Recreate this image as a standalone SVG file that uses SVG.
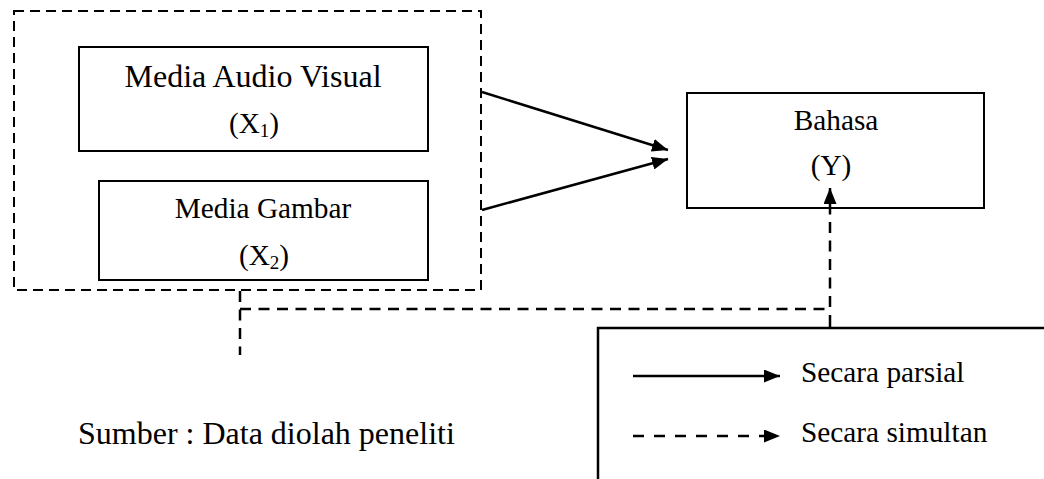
<svg xmlns="http://www.w3.org/2000/svg" width="1044" height="479" viewBox="0 0 1044 479">
<defs>
<marker id="ah" viewBox="0 0 16 13" refX="16" refY="6.5" markerWidth="16" markerHeight="13" markerUnits="userSpaceOnUse" orient="auto">
<path d="M0,0 L16,6.5 L0,13 z" fill="#000"/>
</marker>
</defs>
<style>
.box{fill:#fff;stroke:#000;stroke-width:2}
.dash{fill:none;stroke:#000;stroke-width:2;stroke-dasharray:10,6}
.cdash{fill:none;stroke:#000;stroke-width:2.5;stroke-dasharray:11,7.5}
.ldash{fill:none;stroke:#000;stroke-width:2.5;stroke-dasharray:11,10}
.solid{fill:none;stroke:#000;stroke-width:2.5}
.t{font-family:"Liberation Serif","Times New Roman",serif;font-size:29.3px;fill:#000}
.big{font-size:32px}
.c{text-anchor:middle}
</style>
<rect width="1044" height="479" fill="#fff"/>
<rect class="dash" x="14" y="11" width="467" height="279"/>
<g id="x1">
<rect class="box" x="79" y="47" width="349" height="104"/>
<text class="t big c" x="253" y="87">Media Audio Visual</text>
<text class="t c" x="254" y="133">(X<tspan font-size="19" dy="4">1</tspan><tspan dy="-4">)</tspan></text>
</g>
<g id="x2">
<rect class="box" x="99" y="181" width="329" height="99"/>
<text class="t c" x="263" y="218">Media Gambar</text>
<text class="t c" x="264" y="265">(X<tspan font-size="19" dy="4">2</tspan><tspan dy="-4">)</tspan></text>
</g>
<g id="y">
<rect class="box" x="687" y="93" width="297" height="115"/>
<text class="t c" x="836" y="130">Bahasa</text>
<text class="t c" x="831" y="175">(Y)</text>
</g>
<g id="connectors">
<line class="solid" x1="482" y1="92" x2="668" y2="150" marker-end="url(#ah)"/>
<line class="solid" x1="482" y1="210" x2="668" y2="159" marker-end="url(#ah)"/>
<line class="cdash" x1="240" y1="291" x2="240" y2="355"/>
<polyline class="cdash" points="240,309 830,309 830,188" marker-end="url(#ah)"/>
<line class="solid" x1="830" y1="315" x2="830" y2="328"/>
</g>
<g id="legend">
<polyline class="solid" points="598,479 598,328 1044,328"/>
<line class="solid" x1="633" y1="376" x2="780" y2="376" marker-end="url(#ah)"/>
<line class="ldash" x1="633" y1="436" x2="780" y2="436" marker-end="url(#ah)"/>
<text class="t" x="801" y="382">Secara parsial</text>
<text class="t" x="801" y="442">Secara simultan</text>
</g>
<text class="t big" x="78" y="444">Sumber : Data diolah peneliti</text>
</svg>
